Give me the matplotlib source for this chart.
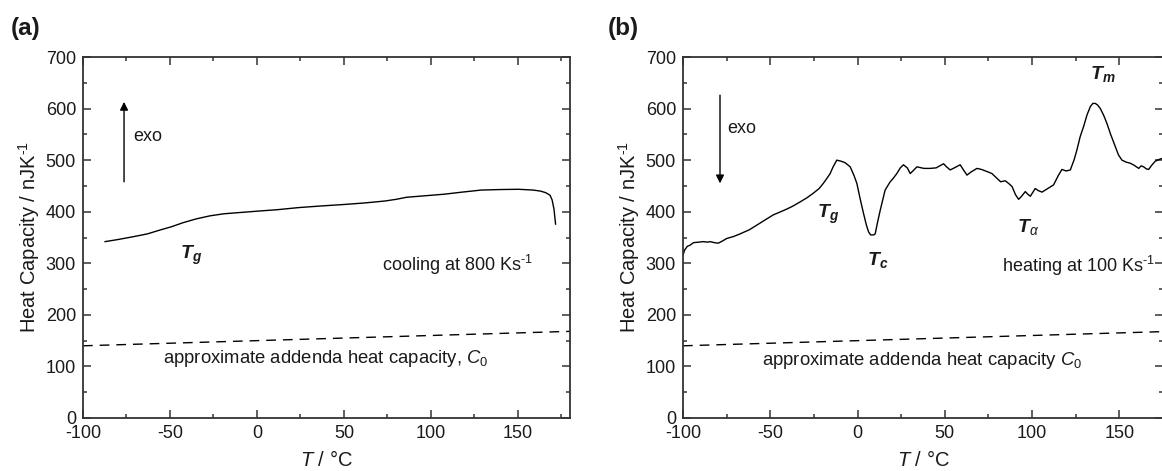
import numpy as np
import matplotlib
matplotlib.use("Agg")
import matplotlib.pyplot as plt
from matplotlib.ticker import MultipleLocator

plt.rcParams['font.family'] = ['Liberation Sans', 'DejaVu Sans']
plt.rcParams['axes.unicode_minus'] = False
plt.rcParams['mathtext.fontset'] = 'custom'
plt.rcParams['mathtext.rm'] = 'Liberation Sans'
plt.rcParams['mathtext.it'] = 'Liberation Sans:italic'
plt.rcParams['mathtext.bf'] = 'Liberation Sans:bold:italic'

# ---- panel (a): cooling curve ----
cool_T = [-87.3, -80, -71, -63, -55.7, -49, -42.5, -35, -27, -19, -11.4, 0, 12, 24, 36.3,
          50, 62, 73.7, 80, 86, 97, 107.8, 118, 129, 140, 150.4, 158.8, 163, 166,
          168.5, 169.7, 170.8, 171.7]
cool_cp = [342, 346, 351.6, 357, 364.5, 371, 378.7, 386, 392, 396, 398, 401, 404, 408, 411,
           414, 417, 420.8, 424, 428, 431, 434, 438, 442, 443, 443.5, 442, 440, 437,
           432, 423, 405, 376]

# ---- panel (b): heating curve ----
heat_T = [-100, -99, -97.5, -96, -94, -91, -88.4, -86, -84.5, -82, -79.8, -77.5, -75, -71,
          -67.3, -62, -57.7, -53, -48.2, -44, -40.6, -37, -32.9, -29, -25.3, -22, -19.6,
          -17.5, -15.7, -14, -11.9, -9.5, -7.1, -4.2, -2, -0.4, 1.5, 3.4, 5, 6.3, 7.5, 9.2,
          10.1, 11.5, 13, 15.8, 18.7, 20.5, 22.5, 24.5, 26.3, 28.5, 30.2, 32, 34, 38, 41.6,
          45, 49.3, 51, 53.1, 56, 58.8, 60.5, 62.7, 65, 68.4, 71, 74.1, 77, 79.8, 82, 84.6,
          86.5, 88.5, 90.5, 92.3, 94, 96.1, 97.5, 99, 101.8, 103.5, 105.7, 109, 112.3, 115,
          117.1, 119.5, 121.9, 124, 125.7, 127.5, 129.5, 131.5, 133.4, 134.8, 136.2, 137.5,
          139.1, 141, 142.9, 145, 147.7, 149.5, 151.5, 154, 156.3, 158.5, 161.1, 162.5,
          163.9, 165.5, 166.8, 168.5, 170.6, 172.5, 175]
heat_cp = [316, 326, 333, 335, 340, 341, 342, 341, 342, 340, 339, 343, 348, 352,
           357, 365, 374, 384, 394, 400, 405, 411, 419, 427, 436, 445, 455,
           465, 474, 487, 500, 498, 495, 487, 470, 455, 425, 397, 375, 361, 355, 355,
           357, 380, 403, 442, 458, 465, 474, 485, 491, 485, 474, 480, 487, 484, 484,
           485, 493, 487, 481, 486, 491, 482, 471, 477, 484, 482, 478, 474, 465, 458, 460,
           455, 449, 433, 424, 430, 439, 434, 430, 445, 441, 438, 445, 452, 470,
           482, 479, 481, 500, 520, 545, 565, 588, 604, 610, 610, 607,
           600, 587, 571, 550, 526, 510, 500, 496, 494, 490, 484, 489,
           487, 483, 482, 490, 498, 501, 504]

# approximate addenda heat capacity (dashed)
addenda_T = [-100, 180]
addenda_cp = [140, 168]

txt = '#1a1a1a'
sup = '$^{\\mathrm{\u2010}\\mathrm{1}}$'  # "-1" superscript with a plain hyphen

fig = plt.figure(figsize=(11.62, 4.71), dpi=100)
ax1 = fig.add_axes([83/1162, 53/471, 487/1162, 361/471])
ax2 = fig.add_axes([683/1162, 53/471, 480/1162, 361/471])


def style(ax, xmax):
    ax.set_xlim(-100, xmax)
    ax.set_ylim(0, 700)
    ax.xaxis.set_major_locator(MultipleLocator(50))
    ax.xaxis.set_minor_locator(MultipleLocator(25))
    ax.yaxis.set_major_locator(MultipleLocator(100))
    ax.yaxis.set_minor_locator(MultipleLocator(50))
    ax.tick_params(which='both', direction='in', top=True, right=True,
                   labelsize=13, colors='#333333', labelcolor=txt, width=1.1)
    ax.tick_params(which='major', length=5.5, pad=5)
    ax.tick_params(which='minor', length=3)
    for s in ax.spines.values():
        s.set_linewidth(1.3)
        s.set_color('#333333')
    ax.set_xlabel(r'$\mathit{T}$ / °C', fontsize=14.5, color=txt, labelpad=6)
    ax.set_ylabel('Heat Capacity / nJK' + sup, fontsize=14.5, color=txt, labelpad=3)


style(ax1, 180)
style(ax2, 175)

# panel (a)
ax1.plot(cool_T, cool_cp, color='k', lw=1.0)
ax1.plot(addenda_T, addenda_cp, color='k', lw=1.0, linestyle=(0, (7, 5)))
ax1.annotate('', xy=(-76.4, 613), xytext=(-76.4, 458),
             arrowprops=dict(arrowstyle='-|>', lw=1, color='k', mutation_scale=12,
                             shrinkA=0, shrinkB=0))
ax1.text(-71, 545, 'exo', fontsize=13, va='center', color=txt)
ax1.text(-44, 316, r'$\mathbf{T_g}$', fontsize=14, va='center', color=txt)
ax1.text(72, 297, 'cooling at 800 Ks' + sup, fontsize=13, va='center', color=txt)
ax1.text(-54, 116, r'approximate addenda heat capacity, $\mathit{C_0}$', fontsize=13.3,
         va='center', color=txt)

# panel (b)
ax2.plot(heat_T, heat_cp, color='k', lw=1.0)
ax2.plot(addenda_T, addenda_cp, color='k', lw=1.0, linestyle=(0, (7, 5)))
ax2.annotate('', xy=(-78.8, 455), xytext=(-78.8, 626),
             arrowprops=dict(arrowstyle='-|>', lw=1, color='k', mutation_scale=12,
                             shrinkA=0, shrinkB=0))
ax2.text(-74.8, 562, 'exo', fontsize=13, va='center', color=txt)
ax2.text(-23, 394, r'$\mathbf{T_g}$', fontsize=14, va='center', color=txt)
ax2.text(5.6, 306, r'$\mathbf{T_c}$', fontsize=14, va='center', color=txt)
ax2.text(91.3, 370, r'$\mathbf{T}_{\alpha}$', fontsize=14, va='center', color=txt)
ax2.text(133, 668, r'$\mathbf{T_m}$', fontsize=14, va='center', color=txt)
ax2.text(83, 295, 'heating at 100 Ks' + sup, fontsize=13, va='center', color=txt)
ax2.text(-55, 112, r'approximate addenda heat capacity $\mathit{C_0}$', fontsize=13.3,
         va='center', color=txt)

fig.text(11/1162, 1 - 28/471, '(a)', fontsize=17.5, fontweight='bold', va='center', color=txt)
fig.text(608/1162, 1 - 28/471, '(b)', fontsize=17.5, fontweight='bold', va='center', color=txt)

fig.savefig('out.png', dpi=100)
